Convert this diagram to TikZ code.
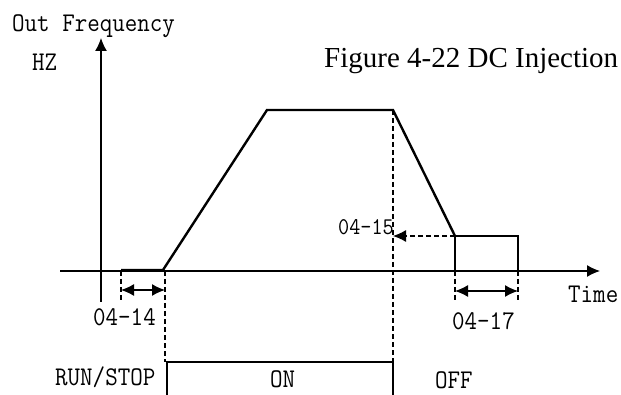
\documentclass[tikz,border=0pt]{standalone}
\usepackage{fontspec}
\setmainfont{Liberation Serif}
\newfontfamily\monof[FakeStretch=0.9]{Latin Modern Mono}
\usetikzlibrary{arrows.meta}
\begin{document}
\begin{tikzpicture}[x=1pt,y=-1pt,
  axis/.style={line width=1.3pt,-{Latex[length=13pt,width=12pt]}},
  curve/.style={line width=2.4pt,line join=miter},
  thin/.style={line width=1.2pt},
  dsh/.style={line width=1.1pt,dash pattern=on 5pt off 3pt},
  dim/.style={line width=1.3pt,{Latex[length=13pt,width=12pt]}-{Latex[length=13pt,width=12pt]}},
  lab/.style={font=\monof\fontsize{27}{29}\selectfont,anchor=base west,inner sep=0pt},
  slab/.style={font=\monof\fontsize{24}{26}\selectfont,anchor=base west,inner sep=0pt}]
\useasboundingbox (0,0) rectangle (621,395);
% coordinates
\coordinate (ybot) at (101,302);
\coordinate (ytop) at (101,38);
\coordinate (xl) at (60,271);
\coordinate (xr) at (600,271);
\coordinate (s0) at (121,270);
\coordinate (s1) at (163,270);
\coordinate (p1) at (267,110);
\coordinate (p2) at (393,110);
\coordinate (p3) at (455,236);
\coordinate (r1) at (518,236);
\coordinate (r2) at (518,271);
\coordinate (r0) at (455,271);
\coordinate (on0) at (167,395);
\coordinate (on1) at (167,362);
\coordinate (on2) at (393,362);
\coordinate (on3) at (393,395);
% axes
\draw[axis] (ybot) -- (ytop);
\draw[axis] (xl) -- (xr);
% curve
\draw[curve] (s0) -- (s1) -- (p1) -- (p2) -- (p3);
\draw[thin] (r0) -- (p3) -- (r1) -- (r2);
% dashed guides
\draw[dsh] (121,271) -- (121,302);
\draw[dsh] (165,271) -- (165,362);
\draw[dsh] (p2) -- (on2);
\draw[dsh] (r0) -- (455,302);
\draw[dsh] (r2) -- (518,302);
\draw[dsh,-{Latex[length=13pt,width=12pt]}] (p3) -- (393,236);
% dimension arrows
\draw[dim] (121,290) -- (165,290);
\draw[dim] (455,291) -- (518,291);
% ON box
\draw[thin] (on0) -- (on1) -- (on2) -- (on3);
% labels
\node[lab] (of) at (12,32) {Out Frequency};
\node[lab] (hz) at (32,71) {HZ};
\node[font=\fontsize{29}{31}\selectfont,anchor=base west,inner sep=0pt] (title) at (324,68) {Figure 4-22 DC Injection};
\node[slab] (l15) at (338,235) {04-15};
\node[lab] (time) at (568,302) {Time};
\node[lab] (l14) at (93,326) {04-14};
\node[lab] (l17) at (452,329) {04-17};
\node[lab] (rs) at (55,385) {RUN/STOP};
\node[lab] (on) at (270,387) {ON};
\node[lab] (off) at (435,388) {OFF};
\end{tikzpicture}
\end{document}
